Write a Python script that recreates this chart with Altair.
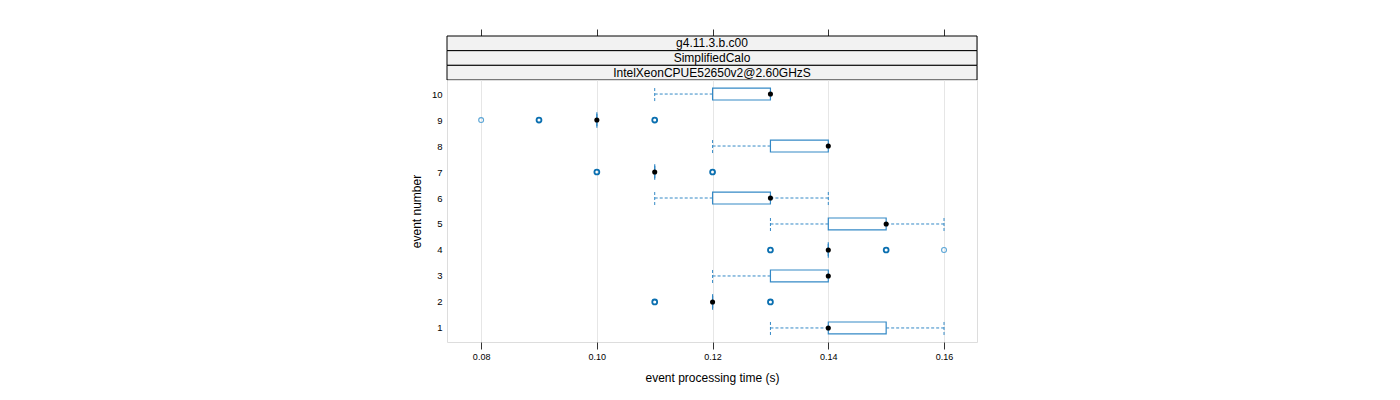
import altair as alt
import pandas as pd

# ---- data ----
events = [1, 2, 3, 4, 5, 6, 7, 8, 9, 10]
whisk_lo = [0.13, 0.12, 0.12, 0.14, 0.13, 0.11, 0.11, 0.12, 0.10, 0.11]
q1 = [0.14, 0.12, 0.13, 0.14, 0.14, 0.12, 0.11, 0.13, 0.10, 0.12]
median = [0.14, 0.12, 0.14, 0.14, 0.15, 0.13, 0.11, 0.14, 0.10, 0.13]
q3 = [0.15, 0.12, 0.14, 0.14, 0.15, 0.13, 0.11, 0.14, 0.10, 0.13]
whisk_hi = [0.16, 0.12, 0.14, 0.14, 0.16, 0.14, 0.11, 0.14, 0.10, 0.13]

out_event = [2, 2, 4, 4, 4, 7, 7, 9, 9, 9]
out_value = [0.11, 0.13, 0.13, 0.15, 0.16, 0.10, 0.12, 0.08, 0.09, 0.11]
out_count = [3, 3, 3, 3, 1, 3, 3, 1, 3, 3]

strip_labels = ["g4.11.3.b.c00", "SimplifiedCalo", "IntelXeonCPUE52650v2@2.60GHzS"]
x_ticks = [0.08, 0.10, 0.12, 0.14, 0.16]
y_ticks = events

W = 530
H = 262
FONT = "Liberation Sans"
BOX = "#3489c6"
OUT_DARK = "#0a6fb0"
OUT_LIGHT = "#5aa5d6"
XDOM = [0.0741, 0.1657]
YDOM = [0.46, 10.54]

box_df = pd.DataFrame(dict(event=events, lo=whisk_lo, q1=q1, med=median, q3=q3, hi=whisk_hi))
out_df = pd.DataFrame(dict(event=out_event, value=out_value, n=out_count))

xs = alt.Scale(domain=XDOM, nice=False, zero=False)
ys = alt.Scale(domain=YDOM, nice=False, zero=False)

xaxis = alt.Axis(values=x_ticks, format=".2f", grid=True, gridColor="#e6e6e6",
                 domain=False, tickColor="#333", tickSize=7, labelFontSize=9,
                 labelPadding=3, title="event processing time (s)", titleFontSize=12,
                 titleFontWeight="normal", titlePadding=11, labelColor="#000", titleColor="#000")
yaxis = alt.Axis(values=y_ticks, grid=False, domain=False, ticks=False, labelFontSize=9.5,
                 labelPadding=5, labelOverlap=False, labelBound=False, labelFlush=False,
                 title="event number", titleFontSize=12,
                 titleFontWeight="normal", titlePadding=8, labelColor="#000", titleColor="#000")


def Y(field):
    return alt.Y(field, scale=ys, axis=yaxis)


def X(field):
    return alt.X(field, scale=xs, axis=xaxis)


base = alt.Chart(box_df)
dash = dict(color=BOX, strokeDash=[3, 2], strokeWidth=1)

lo_whisk = base.transform_filter("datum.lo < datum.q1").mark_rule(**dash).encode(
    x=X("lo:Q"), x2="q1:Q", y=Y("event:Q"))
hi_whisk = base.transform_filter("datum.hi > datum.q3").mark_rule(**dash).encode(
    x=X("q3:Q"), x2="hi:Q", y=Y("event:Q"))

lo_cap = base.transform_filter("datum.lo < datum.q1").transform_calculate(
    ya="datum.event - 0.27", yb="datum.event + 0.27").mark_rule(**dash).encode(
    x=X("lo:Q"), y=Y("ya:Q"), y2="yb:Q")
hi_cap = base.transform_filter("datum.hi > datum.q3").transform_calculate(
    ya="datum.event - 0.27", yb="datum.event + 0.27").mark_rule(**dash).encode(
    x=X("hi:Q"), y=Y("ya:Q"), y2="yb:Q")

boxes = base.transform_calculate(
    ya="datum.event - 0.23", yb="datum.event + 0.23").mark_rect(
    fillOpacity=0, stroke=BOX, strokeWidth=1.2).encode(
    x=X("q1:Q"), x2="q3:Q", y=Y("ya:Q"), y2="yb:Q")

flat = base.transform_filter("datum.q1 == datum.q3").transform_calculate(
    ya="datum.event - 0.3", yb="datum.event + 0.3").mark_rule(
    color=BOX, strokeWidth=1.2).encode(
    x=X("q1:Q"), y=Y("ya:Q"), y2="yb:Q")

meds = base.mark_point(filled=True, color="#000", size=26, opacity=1, shape="circle").encode(
    x=X("med:Q"), y=Y("event:Q"))

outs = alt.Chart(out_df).mark_point(shape="circle", filled=False, size=24, opacity=1).encode(
    x=X("value:Q"), y=Y("event:Q"),
    stroke=alt.condition("datum.n > 1", alt.value(OUT_DARK), alt.value(OUT_LIGHT)),
    strokeWidth=alt.condition("datum.n > 1", alt.value(1.8), alt.value(1.1)))

main = alt.layer(lo_whisk, hi_whisk, lo_cap, hi_cap, boxes, flat, meds, outs).properties(
    width=W, height=H)

# ---- strips ----
strip_df = pd.DataFrame(dict(label=strip_labels))
tick_df = pd.DataFrame(dict(t=x_ticks))
sy = alt.Scale(domain=strip_labels, paddingInner=0, paddingOuter=0)
strip_rect = alt.Chart(strip_df).mark_rect(fill="#f2f2f2", stroke="#000", strokeWidth=1).encode(
    y=alt.Y("label:N", scale=sy, axis=None, sort=strip_labels),
    x=alt.value(0), x2=alt.value(W))
strip_text = alt.Chart(strip_df).mark_text(fontSize=12, font=FONT, color="#000").encode(
    y=alt.Y("label:N", scale=sy, axis=None, sort=strip_labels),
    x=alt.value(W / 2), text="label:N")
top_ticks = alt.Chart(tick_df).mark_rule(opacity=0).encode(
    x=alt.X("t:Q", scale=xs, axis=alt.Axis(orient="top", values=x_ticks, labels=False,
                                            domain=False, grid=False, tickSize=7,
                                            tickColor="#333", title=None)),
    y=alt.value(0))
strips = alt.layer(strip_rect, strip_text, top_ticks).properties(width=W, height=44)

chart = alt.vconcat(strips, main, spacing=0, bounds="flush").configure_view(
    stroke="#555", strokeWidth=1).configure_concat(spacing=0).configure(
    font=FONT).properties(padding={"left": 401, "top": 20, "right": 5, "bottom": 5})

chart = chart.configure_axis(labelFont=FONT, titleFont=FONT).configure_axisY(labelOverlap=False)
chart.save("out.html", embed_options={"renderer": "svg", "actions": False})
